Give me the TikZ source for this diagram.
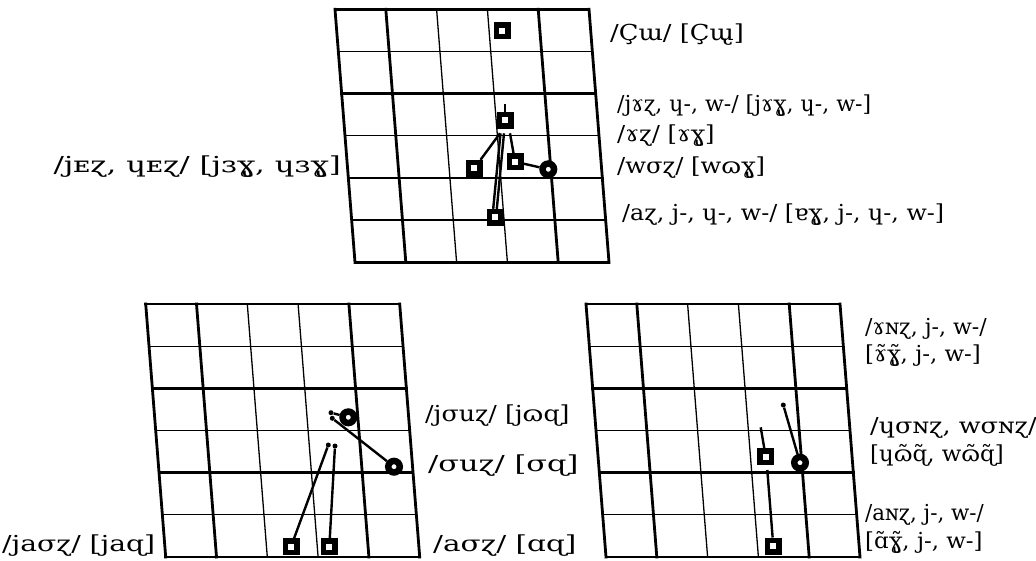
\documentclass[tikz,border=0pt]{standalone}
\usepackage{fontspec}
\usepackage{graphicx}
\setmainfont{DejaVu Serif}
\newcommand\chartgrid[2]{%
  \foreach \i in {0,1,4,5}
    \draw[gthick] ({#1+\i*50.8},{#2}) -- ({#1+\i*50.8+20},{#2+253});
  \foreach \i in {2,3}
    \draw[gthin] ({#1+\i*50.8},{#2}) -- ({#1+\i*50.8+20},{#2+253});
  \foreach \j in {0,2,4,6}
    \draw[gthick] ({#1+\j*20/6},{#2+\j*253/6}) -- ({#1+254+\j*20/6},{#2+\j*253/6});
  \foreach \j in {1,3,5}
    \draw[gthin] ({#1+\j*20/6},{#2+\j*253/6}) -- ({#1+254+\j*20/6},{#2+\j*253/6});
}
\newcommand\lab[2]{\scalebox{#1}[1]{#2}}
\tikzset{
  gthick/.style={line width=2.8pt, line cap=rect},
  gthin/.style={line width=1.3pt},
  sq/.style={rectangle, draw, fill=white, line width=5.5pt, minimum size=11.5pt, inner sep=0pt},
  rd/.style={circle, draw, fill=white, line width=6.5pt, minimum size=11.5pt, inner sep=0pt},
  conn/.style={line width=2.4pt},
  dotm/.style={circle, fill, inner sep=0pt, minimum size=5pt},
  lbl/.style={anchor=base west, inner sep=0pt, font=\fontsize{22}{26}\selectfont},
  lblr/.style={anchor=base east, inner sep=0pt, font=\fontsize{22}{26}\selectfont}
}
\begin{document}
\begin{tikzpicture}[x=1pt,y=-1pt]
\useasboundingbox (0,0) rectangle (1036,560);
\fill[white] (0,0) rectangle (1036,560);
% grids
\chartgrid{335}{9.3}
\chartgrid{145.7}{304}
\chartgrid{586}{304}
% top chart markers
\node[sq] (t1) at (502.3,30.7) {};
\node[sq] (t2) at (505,120) {};
\node[sq] (t3) at (474.3,168.3) {};
\node[sq] (t4) at (515,161.7) {};
\node[rd] (t5) at (548.3,169.3) {};
\node[sq] (t6) at (495,217.3) {};
\coordinate (tk) at (505,104);
\coordinate (c1) at (500,133.3);
\coordinate (c2) at (500.5,133.3);
\coordinate (c3) at (504,133.3);
\coordinate (c4) at (510,133.3);
\draw[conn] (t2.north) -- (tk);
\draw[conn] (t3) -- (c1);
\draw[conn] ([xshift=-1.8pt]t6.north) -- (c2);
\draw[conn] ([xshift=1.8pt]t6.north) -- (c3);
\draw[conn] (t4) -- (c4);
\draw[conn] (t5) -- (t4);
% bottom-left chart markers
\node[rd] (l1) at (348.3,417.3) {};
\node[rd] (l2) at (394,466.7) {};
\node[dotm] (d1) at (331,412.7) {};
\node[dotm] (d2) at (332.3,418.3) {};
\draw[conn] (d1) -- (l1);
\draw[conn] (d2) -- (l2);
\node[sq] (l3) at (291,546.7) {};
\node[sq] (l4) at (329.3,546.7) {};
\node[dotm] (d3) at (328.3,445) {};
\node[dotm] (d4) at (335,446) {};
\draw[conn] (l3) -- (d3);
\draw[conn] (l4) -- (d4);
% bottom-right chart markers
\node[sq] (r1) at (765.7,456.7) {};
\coordinate (e1) at (760.7,427.3);
\draw[conn] (r1) -- (e1);
\node[rd] (r2) at (800,462.7) {};
\node[dotm] (d5) at (783.3,405) {};
\draw[conn] (r2) -- (d5);
\node[sq] (r3) at (773.3,546) {};
\coordinate (e2) at (767.3,470);
\draw[conn] (r3) -- (e2);
% labels top
\node[lbl] (T1) at (610,40) {\lab{1.17}{/Çɯ/ [Çɯ̢]}};
\node[lbl] (T2) at (617,111) {/jɤɀ, ɥ-, w-/ [jɤɣ̢, ɥ-, w-]};
\node[lbl] (T3) at (617,141) {\lab{1.1}{/ɤɀ/ [ɤɣ̢]}};
\node[lbl] (T4) at (617,173) {\lab{1.1}{/wσɀ/ [wɷɣ̢]}};
\node[lbl] (T5) at (622,220) {\lab{1.08}{/aɀ, j-, ɥ-, w-/ [ɐɣ̢, j-, ɥ-, w-]}};
\node[lblr] (T6) at (341,172) {\lab{1.4}{/jᴇɀ, ɥᴇɀ/ [jɜɣ̢, ɥɜɣ̢]}};
% labels bottom-left
\node[lbl] (L1) at (425,421.7) {\lab{1.15}{/jσuɀ/ [jɷɋ]}};
\node[lbl] (L2) at (428,471.7) {\lab{1.38}{/σuɀ/ [σɋ]}};
\node[lbl] (L3) at (433,551.7) {\lab{1.34}{/aσɀ/ [ɑɋ]}};
\node[lbl] (L4) at (2,551.7) {\lab{1.28}{/jaσɀ/ [jaɋ]}};
% labels bottom-right
\node[lbl] (R1) at (865,334) {/ɤɴɀ, j-, w-/};
\node[lbl] (R2) at (865,361.7) {\lab{1.04}{[ɤ̃ɣ̢̃, j-, w-]}};
\node[lbl] (R3) at (870,433) {\lab{1.16}{/ɥσɴɀ, wσɴɀ/}};
\node[lbl] (R4) at (870,461.7) {\lab{1.04}{[ɥɷ̃ɋ̃, wɷ̃ɋ̃]}};
\node[lbl] (R5) at (865,520) {\lab{0.97}{/aɴɀ, j-, w-/}};
\node[lbl] (R6) at (865,548) {\lab{1.04}{[ɑ̃ɣ̢̃, j-, w-]}};
\end{tikzpicture}
\end{document}
